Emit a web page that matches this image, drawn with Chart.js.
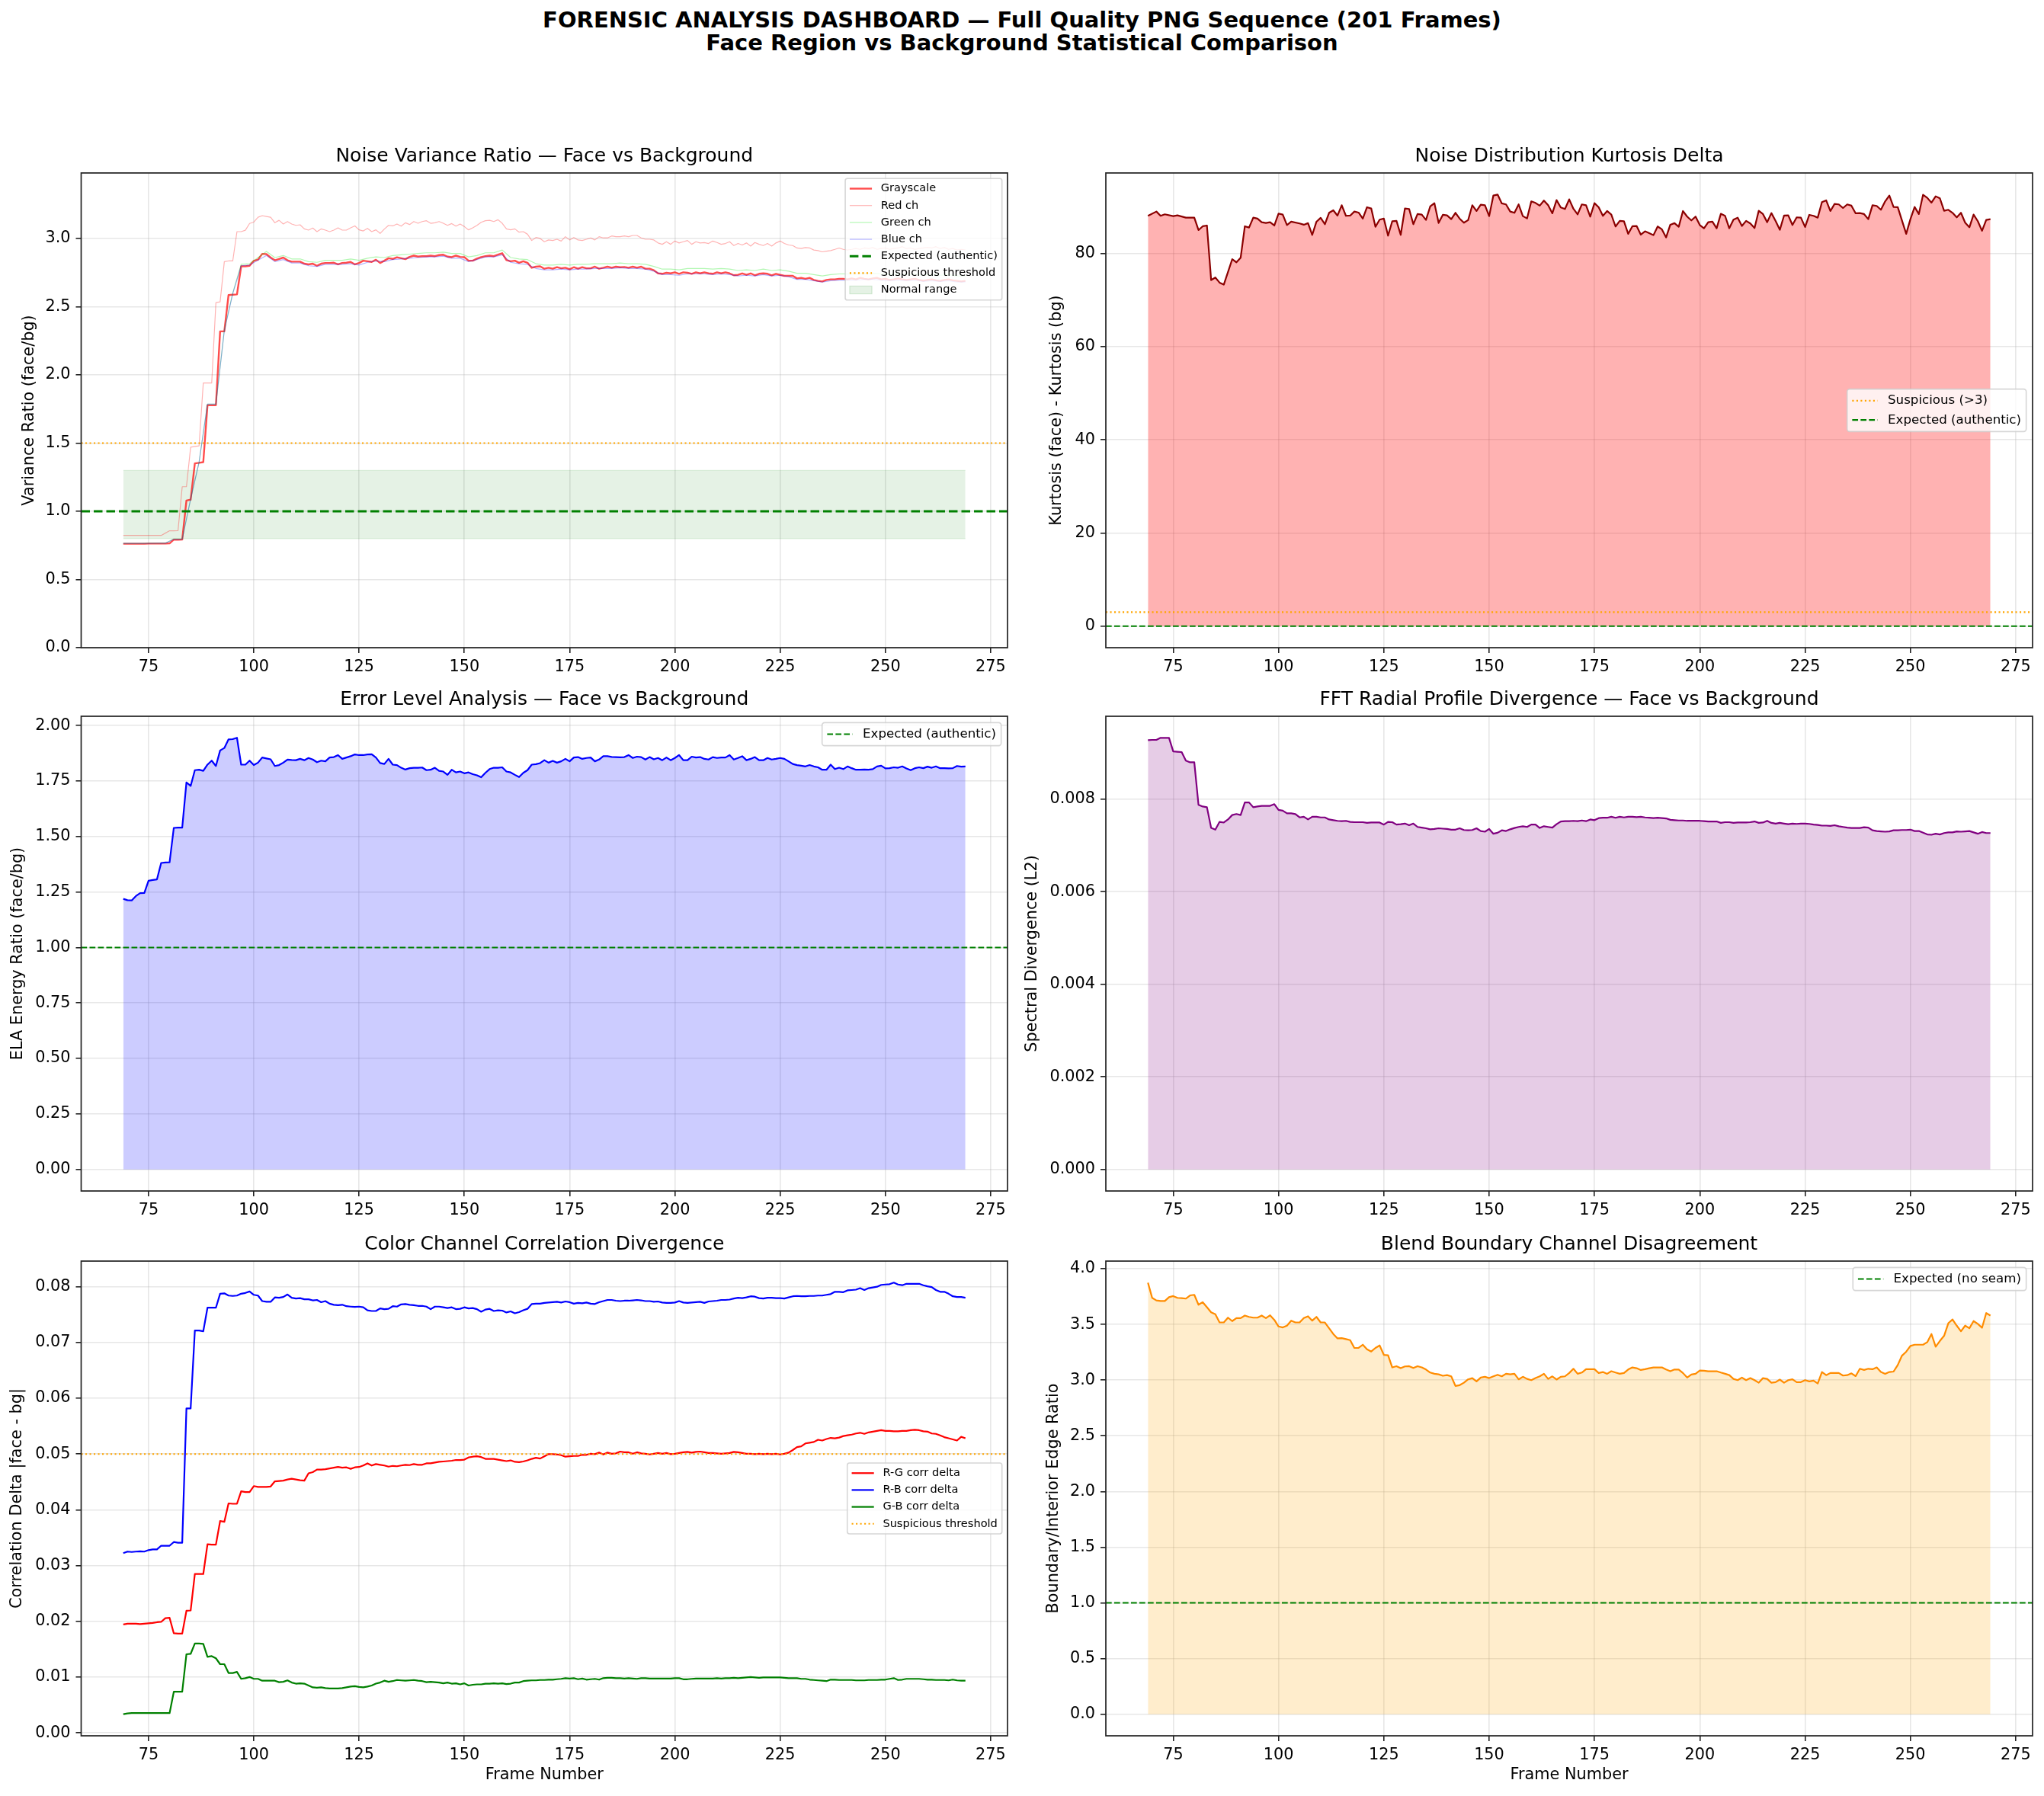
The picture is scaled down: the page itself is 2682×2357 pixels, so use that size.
<!DOCTYPE html>
<html>
<head>
<meta charset="utf-8">
<title>Forensic Analysis Dashboard</title>
<script src="https://cdn.jsdelivr.net/npm/chart.js@4.4.1/dist/chart.umd.min.js"></script>
<style>
  html, body { margin: 0; padding: 0; background: #fff; }
  #page { position: relative; width: 2682px; height: 2357px; overflow: hidden; }
  .suptitle { position: absolute; left: 0; width: 2682px; text-align: center; white-space: nowrap;
    font-family: "DejaVu Sans", sans-serif; font-weight: bold; font-size: 29px; line-height: 29px; color: #000; }
  canvas { position: absolute; }
</style>
</head>
<body>
<div id="page">
  <div class="suptitle" style="top:12px">FORENSIC ANALYSIS DASHBOARD — Full Quality PNG Sequence (201 Frames)</div>
  <div class="suptitle" style="top:42px">Face Region vs Background Statistical Comparison</div>
  <canvas id="variance"></canvas>
  <canvas id="kurtosis"></canvas>
  <canvas id="ela"></canvas>
  <canvas id="fft"></canvas>
  <canvas id="corr"></canvas>
  <canvas id="blend"></canvas>
</div>
<script>
// ---- data (one value per frame, starting at frame 69) ----
const FIRST_FRAME = 69;
const xTickValues = [75, 100, 125, 150, 175, 200, 225, 250, 275];

// noise variance ratio
const varGray = [
  0.762,0.762,0.762,0.762,0.762,0.762,0.763,0.763,0.763,0.763,0.763,
  0.765,0.792,0.792,0.793,1.079,1.085,1.351,1.355,1.360,1.777,
  1.777,1.778,2.319,2.319,2.585,2.588,2.590,2.796,2.796,2.800,
  2.836,2.845,2.887,2.885,2.860,2.840,2.850,2.860,2.840,2.830,
  2.830,2.830,2.815,2.810,2.815,2.800,2.815,2.820,2.820,2.822,
  2.810,2.820,2.822,2.828,2.810,2.820,2.837,2.833,2.828,2.844,
  2.820,2.837,2.855,2.850,2.862,2.855,2.848,2.865,2.874,2.867,
  2.870,2.870,2.874,2.870,2.878,2.881,2.867,2.863,2.874,2.865,
  2.863,2.837,2.837,2.852,2.863,2.870,2.874,2.870,2.881,2.892,
  2.841,2.833,2.837,2.822,2.833,2.822,2.785,2.793,2.796,2.778,
  2.785,2.778,2.789,2.781,2.785,2.774,2.789,2.778,2.789,2.781,
  2.781,2.793,2.778,2.785,2.793,2.785,2.793,2.789,2.791,2.785,
  2.793,2.785,2.793,2.778,2.778,2.767,2.744,2.741,2.748,2.744,
  2.752,2.741,2.752,2.748,2.741,2.752,2.744,2.752,2.744,2.741,
  2.752,2.744,2.752,2.744,2.730,2.733,2.744,2.733,2.744,2.730,
  2.741,2.744,2.741,2.730,2.741,2.733,2.726,2.726,2.726,2.707,
  2.711,2.704,2.711,2.696,2.689,2.685,2.696,2.700,2.700,2.704,
  2.704,2.700,2.707,2.700,2.711,2.704,2.700,2.707,2.711,2.700,
  2.704,2.696,2.700,2.707,2.700,2.696,2.700,2.704,2.696,2.690,
  2.696,2.700,2.693,2.689,2.696,2.700,2.693,2.689,2.685,2.689
];
const varRed = [
  0.823,0.823,0.823,0.823,0.823,0.823,0.823,0.823,0.823,0.823,0.840,
  0.857,0.857,0.858,1.180,1.180,1.470,1.475,1.480,1.940,1.940,
  1.940,2.530,2.535,2.830,2.835,2.835,3.050,3.050,3.060,3.110,
  3.120,3.155,3.167,3.161,3.155,3.115,3.133,3.106,3.124,3.106,
  3.096,3.100,3.070,3.061,3.076,3.050,3.070,3.061,3.050,3.061,
  3.078,3.061,3.061,3.078,3.092,3.063,3.055,3.074,3.050,3.063,
  3.037,3.069,3.096,3.092,3.106,3.090,3.115,3.102,3.124,3.111,
  3.124,3.130,3.111,3.115,3.124,3.111,3.096,3.109,3.090,3.106,
  3.087,3.063,3.078,3.096,3.118,3.130,3.133,3.124,3.137,3.111,
  3.070,3.063,3.070,3.046,3.050,3.031,2.985,3.007,3.000,2.976,
  2.989,2.985,2.994,2.981,3.013,2.989,3.007,2.989,2.985,2.994,
  3.004,2.989,3.013,3.004,3.004,3.018,3.013,3.013,3.018,3.013,
  3.022,3.022,3.004,2.994,2.994,2.989,2.967,2.957,2.976,2.957,
  2.981,2.967,2.976,2.985,2.957,2.976,2.967,2.970,2.963,2.981,
  2.970,2.957,2.963,2.976,2.948,2.963,2.952,2.967,2.944,2.970,
  2.957,2.948,2.963,2.944,2.967,2.981,2.963,2.952,2.948,2.930,
  2.926,2.933,2.930,2.915,2.911,2.902,2.907,2.911,2.920,2.930,
  2.920,2.915,2.920,2.926,2.920,2.930,2.926,2.933,2.920,2.926,
  2.930,2.920,2.926,2.930,2.940,2.926,2.930,2.920,2.926,2.930,
  2.935,2.930,2.940,2.926,2.933,2.920,2.926,2.915,2.920,2.915
];
// green and blue channels read every second frame
const varGreen = [
  0.765,0.765,0.765,0.766,0.766,0.767,0.797,0.797,1.090,1.360,1.785,
  1.785,2.330,2.600,2.810,2.815,2.860,2.905,2.860,2.875,2.850,
  2.850,2.830,2.825,2.840,2.840,2.840,2.850,2.840,2.855,2.865,
  2.860,2.875,2.880,2.885,2.890,2.895,2.895,2.900,2.890,2.890,
  2.865,2.875,2.895,2.895,2.915,2.860,2.850,2.845,2.815,2.805,
  2.805,2.810,2.805,2.810,2.810,2.815,2.815,2.815,2.820,2.815,
  2.815,2.810,2.795,2.775,2.775,2.770,2.780,2.780,2.780,2.775,
  2.780,2.775,2.765,2.770,2.765,2.775,2.765,2.770,2.760,2.745,
  2.745,2.735,2.725,2.735,2.740,2.740,2.740,2.745,2.745,2.740,
  2.735,2.740,2.735,2.740,2.730,2.735,2.730,2.735,2.725,2.725
];
const varBlue = [
  0.765,0.765,0.765,0.765,0.766,0.766,0.795,0.795,1.090,1.360,1.785,
  1.785,2.325,2.595,2.800,2.805,2.840,2.875,2.830,2.845,2.820,
  2.820,2.800,2.795,2.810,2.810,2.810,2.815,2.805,2.825,2.835,
  2.830,2.845,2.850,2.855,2.860,2.865,2.865,2.870,2.855,2.855,
  2.830,2.845,2.865,2.865,2.880,2.825,2.815,2.810,2.780,2.770,
  2.770,2.775,2.770,2.775,2.775,2.780,2.780,2.780,2.785,2.780,
  2.780,2.775,2.760,2.735,2.735,2.730,2.740,2.740,2.740,2.735,
  2.740,2.735,2.725,2.730,2.725,2.735,2.725,2.730,2.720,2.700,
  2.700,2.690,2.680,2.690,2.695,2.695,2.695,2.700,2.700,2.695,
  2.690,2.695,2.690,2.695,2.685,2.690,2.685,2.690,2.680,2.680
];
const varNormalRange = [0.8, 1.3];
const varExpected = 1.0;
const varSuspicious = 1.5;
const varTicks = [0, 0.5, 1.0, 1.5, 2.0, 2.5, 3.0];

// kurtosis delta (null = frame not read)
const kurtValues = [
  88.07,null,88.99,88.07,88.39,null,88.01,88.17,null,87.68,null,
  87.68,85.01,85.83,85.99,74.28,74.82,73.73,73.30,null,78.75,
  78.09,79.07,85.83,85.56,87.68,87.47,86.70,86.54,86.70,85.99,
  88.56,88.34,86.10,86.81,null,86.43,86.16,86.49,83.98,86.81,
  87.63,86.27,88.72,89.26,88.12,90.35,88.07,88.12,88.99,88.77,
  87.47,89.92,89.65,85.72,87.25,87.47,83.81,86.92,86.98,83.98,
  89.65,89.54,86.27,88.45,88.34,87.19,90.08,90.79,86.54,88.28,
  88.17,87.36,88.72,87.47,86.59,87.14,90.35,89.10,90.46,90.35,
  88.01,92.43,92.64,90.74,90.52,88.99,88.72,90.52,88.01,87.52,
  91.17,90.84,90.25,91.34,90.35,88.61,91.44,89.86,89.54,91.61,
  89.59,88.39,90.52,90.35,87.90,90.79,89.92,88.07,89.10,88.34,
  85.78,86.98,86.92,84.20,85.83,85.89,84.03,84.74,84.36,83.92,
  85.78,85.18,83.43,86.16,86.49,85.72,89.10,87.90,87.08,87.90,
  86.10,85.40,86.70,86.81,85.40,88.50,88.07,85.40,87.25,87.68,
  85.89,86.98,86.43,85.45,89.16,88.45,86.70,88.66,86.98,85.07,
  88.12,88.17,86.10,87.74,87.68,85.67,88.28,88.07,87.68,91.01,
  91.39,89.10,90.63,90.52,89.75,90.52,90.25,88.61,88.66,88.45,
  87.36,90.35,90.19,89.37,91.17,92.43,89.97,89.92,87.08,84.20,
  87.36,89.97,88.45,92.59,91.93,90.90,92.26,91.83,89.16,89.37,
  88.72,87.74,88.72,86.59,85.61,88.34,86.92,84.85,87.19,87.36
];
const kurtSuspicious = 3;
const kurtExpected = 0;
const kurtTicks = [0, 20, 40, 60, 80];

// error level analysis
const elaValues = [
  1.219,1.213,1.212,1.232,1.245,1.246,1.301,1.304,1.307,1.381,1.383,
  1.384,1.539,1.540,1.540,1.744,1.728,1.799,1.801,1.796,1.824,
  1.842,1.818,1.888,1.899,1.938,1.939,1.945,1.824,1.824,1.842,
  1.822,1.833,1.856,1.852,1.848,1.818,1.822,1.833,1.847,1.845,
  1.844,1.850,1.844,1.854,1.847,1.835,1.842,1.839,1.856,1.858,
  1.867,1.850,1.856,1.862,1.870,1.867,1.867,1.870,1.871,1.856,
  1.831,1.827,1.850,1.824,1.822,1.810,1.802,1.808,1.810,1.810,
  1.811,1.799,1.801,1.810,1.796,1.793,1.778,1.801,1.789,1.793,
  1.785,1.789,1.781,1.776,1.767,1.787,1.804,1.810,1.810,1.812,
  1.793,1.789,1.778,1.768,1.787,1.799,1.824,1.826,1.831,1.844,
  1.833,1.841,1.833,1.839,1.850,1.839,1.856,1.858,1.850,1.854,
  1.856,1.839,1.847,1.862,1.862,1.859,1.858,1.857,1.858,1.867,
  1.854,1.860,1.858,1.847,1.858,1.848,1.854,1.844,1.856,1.844,
  1.854,1.867,1.844,1.844,1.860,1.856,1.858,1.850,1.847,1.858,
  1.854,1.856,1.856,1.867,1.847,1.854,1.862,1.844,1.850,1.858,
  1.844,1.844,1.854,1.847,1.850,1.854,1.850,1.839,1.827,1.822,
  1.819,1.816,1.822,1.816,1.812,1.801,1.801,1.824,1.804,1.810,
  1.804,1.816,1.808,1.801,1.801,1.802,1.801,1.804,1.816,1.819,
  1.807,1.808,1.812,1.810,1.816,1.807,1.799,1.808,1.812,1.808,
  1.815,1.810,1.816,1.808,1.808,1.807,1.808,1.818,1.815,1.816
];
const elaExpected = 1.0;
const elaTicks = [0, 0.25, 0.5, 0.75, 1.0, 1.25, 1.5, 1.75, 2.0];

// FFT radial profile divergence
const fftValues = [
  0.009273,0.009280,0.009280,0.009324,0.009324,0.009324,0.009030,0.009023,0.009016,0.008832,0.008795,
  0.008795,0.007876,0.007840,0.007825,0.007377,0.007340,0.007509,0.007494,0.007561,0.007656,
  0.007678,0.007656,0.007928,0.007928,0.007825,0.007840,0.007854,0.007854,0.007854,0.007891,
  0.007766,0.007752,0.007693,0.007693,0.007678,0.007605,0.007619,0.007561,0.007619,0.007619,
  0.007605,0.007605,0.007561,0.007546,0.007531,0.007524,0.007531,0.007509,0.007502,0.007502,
  0.007502,0.007487,0.007494,0.007494,0.007494,0.007450,0.007509,0.007502,0.007450,0.007458,
  0.007472,0.007436,0.007472,0.007399,0.007384,0.007370,0.007348,0.007355,0.007370,0.007362,
  0.007355,0.007340,0.007340,0.007370,0.007333,0.007326,0.007333,0.007370,0.007311,0.007296,
  0.007355,0.007252,0.007274,0.007326,0.007311,0.007348,0.007377,0.007399,0.007414,0.007399,
  0.007450,0.007450,0.007377,0.007414,0.007399,0.007384,0.007458,0.007517,0.007524,0.007524,
  0.007531,0.007524,0.007539,0.007524,0.007561,0.007546,0.007590,0.007597,0.007597,0.007619,
  0.007597,0.007619,0.007605,0.007619,0.007619,0.007612,0.007619,0.007605,0.007597,0.007590,
  0.007597,0.007590,0.007583,0.007553,0.007546,0.007539,0.007539,0.007531,0.007531,0.007531,
  0.007531,0.007524,0.007517,0.007517,0.007517,0.007487,0.007502,0.007502,0.007487,0.007494,
  0.007494,0.007494,0.007502,0.007517,0.007487,0.007494,0.007531,0.007487,0.007472,0.007487,
  0.007472,0.007458,0.007472,0.007465,0.007472,0.007472,0.007465,0.007450,0.007443,0.007428,
  0.007428,0.007421,0.007436,0.007414,0.007399,0.007384,0.007377,0.007377,0.007377,0.007392,
  0.007384,0.007326,0.007311,0.007303,0.007296,0.007303,0.007326,0.007326,0.007333,0.007333,
  0.007340,0.007311,0.007311,0.007274,0.007237,0.007230,0.007252,0.007237,0.007267,0.007281,
  0.007281,0.007303,0.007296,0.007303,0.007311,0.007281,0.007252,0.007289,0.007267,0.007267
];
const fftTicks = [0, 0.002, 0.004, 0.006, 0.008];

// colour channel correlation deltas
const corrRG = [
  0.01946,0.01959,0.01959,0.01959,0.01952,0.01959,0.01965,0.01972,0.01985,0.01992,0.02058,
  0.02064,0.01787,0.01781,0.01781,0.02190,0.02196,0.02849,0.02849,0.02849,0.03383,
  0.03377,0.03377,0.03799,0.03786,0.04116,0.04109,0.04109,0.04333,0.04320,0.04320,
  0.04426,0.04412,0.04412,0.04412,0.04419,0.04511,0.04518,0.04524,0.04544,0.04557,
  0.04544,0.04531,0.04524,0.04656,0.04676,0.04722,0.04722,0.04729,0.04742,0.04755,
  0.04769,0.04755,0.04762,0.04736,0.04762,0.04769,0.04795,0.04834,0.04795,0.04821,
  0.04808,0.04795,0.04775,0.04788,0.04782,0.04795,0.04808,0.04802,0.04821,0.04808,
  0.04808,0.04834,0.04834,0.04848,0.04861,0.04867,0.04874,0.04881,0.04894,0.04894,
  0.04900,0.04940,0.04953,0.04960,0.04947,0.04914,0.04914,0.04914,0.04900,0.04887,
  0.04874,0.04887,0.04861,0.04854,0.04867,0.04887,0.04914,0.04933,0.04920,0.04960,
  0.04999,0.04999,0.04993,0.04980,0.04953,0.04960,0.04966,0.04966,0.04986,0.04986,
  0.05006,0.04999,0.05026,0.04993,0.05026,0.05006,0.05013,0.05045,0.05032,0.05032,
  0.05006,0.05032,0.05013,0.05006,0.04993,0.05006,0.05019,0.05006,0.05019,0.04999,
  0.05006,0.05019,0.05032,0.05039,0.05026,0.05039,0.05045,0.05032,0.05019,0.05019,
  0.05013,0.05006,0.05013,0.05019,0.05039,0.05032,0.05019,0.05006,0.05006,0.04999,
  0.05006,0.04999,0.05006,0.04999,0.05006,0.04993,0.05006,0.05026,0.05072,0.05125,
  0.05138,0.05191,0.05204,0.05217,0.05257,0.05243,0.05270,0.05290,0.05283,0.05296,
  0.05323,0.05336,0.05349,0.05369,0.05382,0.05362,0.05389,0.05402,0.05415,0.05428,
  0.05415,0.05415,0.05408,0.05408,0.05415,0.05415,0.05428,0.05435,0.05428,0.05408,
  0.05402,0.05369,0.05362,0.05336,0.05303,0.05283,0.05263,0.05243,0.05309,0.05283
];
const corrRB = [
  0.03225,0.03252,0.03245,0.03252,0.03258,0.03252,0.03278,0.03291,0.03291,0.03357,0.03357,
  0.03357,0.03423,0.03410,0.03410,0.05817,0.05817,0.07215,0.07215,0.07202,0.07624,
  0.07624,0.07624,0.07875,0.07882,0.07842,0.07835,0.07842,0.07875,0.07889,0.07915,
  0.07855,0.07842,0.07743,0.07730,0.07730,0.07809,0.07803,0.07816,0.07862,0.07803,
  0.07789,0.07796,0.07776,0.07776,0.07756,0.07763,0.07723,0.07743,0.07697,0.07677,
  0.07670,0.07677,0.07651,0.07644,0.07638,0.07644,0.07631,0.07578,0.07565,0.07565,
  0.07611,0.07598,0.07604,0.07651,0.07644,0.07684,0.07690,0.07677,0.07670,0.07657,
  0.07657,0.07644,0.07598,0.07644,0.07644,0.07631,0.07618,0.07631,0.07598,0.07604,
  0.07631,0.07611,0.07618,0.07598,0.07552,0.07591,0.07604,0.07565,0.07578,0.07572,
  0.07539,0.07558,0.07525,0.07545,0.07578,0.07604,0.07690,0.07697,0.07697,0.07710,
  0.07717,0.07723,0.07730,0.07717,0.07736,0.07723,0.07697,0.07710,0.07703,0.07717,
  0.07697,0.07690,0.07723,0.07743,0.07763,0.07763,0.07750,0.07743,0.07750,0.07750,
  0.07756,0.07763,0.07756,0.07743,0.07743,0.07730,0.07736,0.07717,0.07710,0.07710,
  0.07717,0.07743,0.07717,0.07710,0.07717,0.07723,0.07730,0.07710,0.07736,0.07743,
  0.07750,0.07763,0.07763,0.07770,0.07789,0.07803,0.07796,0.07809,0.07829,0.07822,
  0.07796,0.07789,0.07803,0.07803,0.07796,0.07796,0.07789,0.07809,0.07829,0.07835,
  0.07829,0.07829,0.07835,0.07835,0.07842,0.07842,0.07855,0.07868,0.07909,0.07909,
  0.07902,0.07935,0.07941,0.07948,0.07974,0.07941,0.07974,0.07987,0.08000,0.08033,
  0.08040,0.08046,0.08073,0.08040,0.08027,0.08053,0.08053,0.08053,0.08053,0.08027,
  0.08007,0.07994,0.07941,0.07909,0.07909,0.07875,0.07829,0.07816,0.07816,0.07803
];
const corrGB = [
  0.00336,0.00350,0.00356,0.00356,0.00356,0.00356,0.00356,0.00356,0.00356,0.00356,0.00356,
  0.00356,0.00739,0.00739,0.00739,0.01411,0.01418,0.01603,0.01603,0.01596,0.01365,
  0.01378,0.01339,0.01233,0.01233,0.01075,0.01075,0.01095,0.00970,0.00983,0.01003,
  0.00970,0.00970,0.00937,0.00937,0.00937,0.00937,0.00910,0.00917,0.00943,0.00904,
  0.00884,0.00890,0.00884,0.00851,0.00818,0.00811,0.00818,0.00805,0.00798,0.00798,
  0.00798,0.00805,0.00818,0.00831,0.00838,0.00824,0.00818,0.00831,0.00851,0.00884,
  0.00904,0.00937,0.00917,0.00930,0.00950,0.00943,0.00937,0.00943,0.00950,0.00937,
  0.00930,0.00910,0.00917,0.00910,0.00904,0.00890,0.00904,0.00884,0.00890,0.00871,
  0.00890,0.00851,0.00864,0.00871,0.00871,0.00884,0.00884,0.00890,0.00884,0.00890,
  0.00877,0.00884,0.00904,0.00904,0.00930,0.00937,0.00943,0.00943,0.00950,0.00950,
  0.00956,0.00956,0.00963,0.00970,0.00983,0.00976,0.00983,0.00963,0.00976,0.00956,
  0.00963,0.00970,0.00956,0.00983,0.00989,0.00989,0.00983,0.00983,0.00976,0.00983,
  0.00976,0.00970,0.00983,0.00983,0.00976,0.00976,0.00976,0.00976,0.00976,0.00976,
  0.00983,0.00983,0.00963,0.00963,0.00970,0.00976,0.00976,0.00976,0.00976,0.00976,
  0.00983,0.00976,0.00983,0.00983,0.00989,0.00983,0.00989,0.00996,0.01003,0.00996,
  0.00989,0.00996,0.00996,0.00996,0.00996,0.00996,0.00989,0.00983,0.00983,0.00983,
  0.00970,0.00970,0.00956,0.00950,0.00943,0.00937,0.00930,0.00956,0.00956,0.00950,
  0.00950,0.00950,0.00950,0.00943,0.00943,0.00943,0.00950,0.00950,0.00950,0.00956,
  0.00956,0.00970,0.00983,0.00950,0.00956,0.00970,0.00970,0.00970,0.00970,0.00963,
  0.00956,0.00956,0.00950,0.00950,0.00950,0.00943,0.00956,0.00943,0.00937,0.00937
];
const corrSuspicious = 0.05;
const corrTicks = [0, 0.01, 0.02, 0.03, 0.04, 0.05, 0.06, 0.07, 0.08];

// blend boundary ratio
const blendValues = [
  3.875,3.739,3.716,3.711,3.711,3.745,3.755,3.739,3.736,3.732,3.761,
  3.766,3.677,3.700,3.655,3.609,3.591,3.518,3.518,3.561,3.530,
  3.557,3.557,3.580,3.568,3.561,3.561,3.580,3.557,3.582,3.541,
  3.482,3.473,3.489,3.534,3.518,3.518,3.557,3.573,3.534,3.568,
  3.518,3.518,3.466,3.414,3.375,3.377,3.368,3.359,3.289,3.289,
  3.318,3.277,3.257,3.289,3.311,3.227,3.223,3.114,3.125,3.107,
  3.123,3.125,3.109,3.125,3.114,3.095,3.068,3.057,3.052,3.039,
  3.045,3.034,2.948,2.955,2.977,3.007,3.018,2.989,3.023,3.030,
  3.018,3.034,3.048,3.034,3.057,3.052,3.057,3.007,3.030,3.011,
  3.000,3.018,3.034,3.057,3.011,3.034,3.005,3.030,3.034,3.064,
  3.102,3.057,3.068,3.098,3.098,3.098,3.064,3.073,3.057,3.080,
  3.068,3.057,3.064,3.095,3.114,3.107,3.091,3.098,3.107,3.114,
  3.114,3.114,3.095,3.080,3.095,3.095,3.064,3.023,3.050,3.057,
  3.086,3.084,3.080,3.080,3.080,3.068,3.057,3.045,3.011,3.000,
  3.023,3.000,3.018,3.000,2.977,3.018,3.011,2.977,2.982,3.005,
  2.977,3.000,3.007,2.982,2.982,3.000,2.989,2.995,2.970,3.073,
  3.045,3.064,3.064,3.064,3.041,3.045,3.061,3.036,3.102,3.091,
  3.102,3.098,3.114,3.073,3.057,3.073,3.077,3.136,3.220,3.255,
  3.307,3.318,3.318,3.318,3.341,3.414,3.300,3.352,3.398,3.511,
  3.545,3.489,3.439,3.489,3.466,3.530,3.505,3.470,3.602,3.580
];
const blendExpected = 1.0;
const blendTicks = [0, 0.5, 1.0, 1.5, 2.0, 2.5, 3.0, 3.5, 4.0];

// ---- helpers ----
function series(values, step) {
  return values.map((v, i) => ({ x: FIRST_FRAME + i * step, y: v }));
}
const lastFrame = FIRST_FRAME + varGray.length - 1;

Chart.defaults.font.family = '"DejaVu Sans", sans-serif';
Chart.defaults.color = '#000';

const TICK_SIZE = 20.8;
const TITLE_SIZE = 25;
const GRID = 'rgba(176,176,176,0.3)';
const DASH = [7.7, 3.3];
const DOT = [2.1, 3.4];

// horizontal reference lines across the plot
const refLines = {
  id: 'refLines',
  afterDatasetsDraw(chart, args, opts) {
    const lines = opts.lines || [];
    const { ctx, chartArea: a } = chart;
    const y = chart.scales.y;
    ctx.save();
    ctx.beginPath();
    ctx.rect(a.left, a.top, a.width, a.height);
    ctx.clip();
    lines.forEach(r => {
      const py = y.getPixelForValue(r.value);
      ctx.strokeStyle = r.color;
      ctx.lineWidth = r.width;
      ctx.setLineDash(r.dash || []);
      ctx.beginPath();
      ctx.moveTo(a.left, py);
      ctx.lineTo(a.right, py);
      ctx.stroke();
    });
    ctx.restore();
  }
};

// box round the axes
const frame = {
  id: 'frame',
  afterDatasetsDraw(chart) {
    const { ctx, chartArea: a } = chart;
    ctx.save();
    ctx.strokeStyle = '#222';
    ctx.lineWidth = 1.7;
    ctx.strokeRect(a.left, a.top, a.width, a.height);
    ctx.restore();
  }
};

// matplotlib-like legend box inside the axes
const legendBox = {
  id: 'legendBox',
  afterDraw(chart, args, opts) {
    const items = opts.items;
    if (!items || !items.length) return;
    const { ctx, chartArea: a } = chart;
    const fs = opts.fontSize;
    ctx.save();
    ctx.font = fs + 'px "DejaVu Sans"';
    let textW = 0;
    items.forEach(it => { textW = Math.max(textW, ctx.measureText(it.label).width); });
    const pad = 0.4 * fs, hLen = 2 * fs, hGap = 0.8 * fs, pitch = 1.52 * fs;
    const w = pad + hLen + hGap + textW + pad;
    const h = 2 * pad + items.length * pitch - 0.5 * fs;
    const x = a.right - 0.5 * fs - w;
    const y = opts.loc === 'center right' ? (a.top + a.bottom) / 2 - h / 2 : a.top + 0.5 * fs;
    ctx.beginPath();
    if (ctx.roundRect) ctx.roundRect(x, y, w, h, 0.2 * fs); else ctx.rect(x, y, w, h);
    ctx.fillStyle = 'rgba(255,255,255,0.8)';
    ctx.fill();
    ctx.lineWidth = 1.6;
    ctx.strokeStyle = 'rgba(204,204,204,0.8)';
    ctx.stroke();
    items.forEach((it, i) => {
      const cy = y + pad + i * pitch + 0.51 * fs;
      const hx = x + pad;
      if (it.patch) {
        ctx.setLineDash([]);
        ctx.fillStyle = it.patch;
        ctx.fillRect(hx, cy - 0.35 * fs, hLen, 0.7 * fs);
        ctx.strokeStyle = it.edge;
        ctx.lineWidth = 1.2;
        ctx.strokeRect(hx, cy - 0.35 * fs, hLen, 0.7 * fs);
      } else {
        ctx.strokeStyle = it.color;
        ctx.lineWidth = it.width;
        ctx.setLineDash(it.dash || []);
        ctx.beginPath();
        ctx.moveTo(hx, cy);
        ctx.lineTo(hx + hLen, cy);
        ctx.stroke();
      }
      ctx.setLineDash([]);
      ctx.fillStyle = '#000';
      ctx.textAlign = 'left';
      ctx.textBaseline = 'middle';
      ctx.fillText(it.label, hx + hLen + hGap, cy);
    });
    ctx.restore();
  }
};

// ---- layout (pixel positions of each axes) ----
const COLS = [
  { left: 0, width: 1340, plotLeft: 106.5, plotRight: 1322 },
  { left: 1340, width: 1342, plotLeft: 1451, plotRight: 2667 }
];
const ROWS = [
  { top: 150, height: 745, plotTop: 227, plotBottom: 850, titleBase: 214 },
  { top: 895, height: 715, plotTop: 940, plotBottom: 1563, titleBase: 927 },
  { top: 1610, height: 747, plotTop: 1655, plotBottom: 2278, titleBase: 1642 }
];

function lineSet(data, color, width, extra) {
  return Object.assign({
    data: data, borderColor: color, borderWidth: width, pointRadius: 0,
    tension: 0, fill: false, spanGaps: true, borderJoinStyle: 'round'
  }, extra || {});
}

function makePanel(id, col, row, spec) {
  const canvas = document.getElementById(id);
  canvas.width = col.width;
  canvas.height = row.height;
  canvas.style.left = col.left + 'px';
  canvas.style.top = row.top + 'px';

  const titleMid = row.titleBase - 0.346 * TITLE_SIZE;
  const titleTop = titleMid - row.top - 0.6 * TITLE_SIZE;
  const titleBottom = (row.plotTop - row.top) - titleTop - 1.2 * TITLE_SIZE;
  const axisFont = { size: TICK_SIZE };

  new Chart(canvas, {
    type: 'line',
    data: { datasets: spec.datasets },
    options: {
      responsive: false,
      animation: false,
      devicePixelRatio: 1,
      events: [],
      layout: { padding: { left: 0, top: 0, bottom: 0, right: col.left + col.width - col.plotRight } },
      plugins: {
        legend: { display: false },
        tooltip: { enabled: false },
        title: {
          display: true, text: spec.title, fullSize: false, color: '#000',
          font: { size: TITLE_SIZE, weight: 'normal' },
          padding: { top: titleTop, bottom: titleBottom }
        },
        refLines: { lines: spec.refLines || [] },
        legendBox: spec.legend || {}
      },
      scales: {
        x: {
          type: 'linear', min: 59, max: 279,
          afterFit: s => { s.height = row.top + row.height - row.plotBottom; },
          afterBuildTicks: s => { s.ticks = xTickValues.map(v => ({ value: v })); },
          grid: { color: GRID, lineWidth: 1.6, tickColor: '#222', tickWidth: 1.6, tickLength: 7 },
          border: { display: false },
          ticks: { font: axisFont, padding: 6, maxRotation: 0, color: '#000' },
          title: spec.xTitle
            ? { display: true, text: spec.xTitle, font: axisFont, padding: { top: 0, bottom: 14.5 } }
            : { display: false }
        },
        y: {
          type: 'linear', min: spec.yMin, max: spec.yMax,
          afterFit: s => { s.width = col.plotLeft - col.left; },
          afterBuildTicks: s => { s.ticks = spec.yTicks.map(v => ({ value: v })); },
          grid: { color: GRID, lineWidth: 1.6, tickColor: '#222', tickWidth: 1.6, tickLength: 7 },
          border: { display: false },
          ticks: { font: axisFont, padding: 7, color: '#000', callback: v => Number(v).toFixed(spec.yDec) },
          title: {
            display: true, text: spec.yTitle, font: axisFont,
            padding: { top: spec.yTitleX - col.left - 0.6 * TICK_SIZE, bottom: 0 }
          }
        }
      }
    },
    plugins: [refLines, frame, legendBox]
  });
}

// ---- panels ----
makePanel('variance', COLS[0], ROWS[0], {
  title: 'Noise Variance Ratio — Face vs Background',
  yTitle: 'Variance Ratio (face/bg)', yTitleX: 38.5,
  yMin: 0, yMax: 3.48, yTicks: varTicks, yDec: 1,
  datasets: [
    lineSet(series(varBlue, 2), 'rgba(0,0,255,0.3)', 1.2, { order: 2 }),
    lineSet(series(varGreen, 2), 'rgba(0,230,0,0.3)', 1.2, { order: 3 }),
    lineSet(series(varRed, 1), 'rgba(255,0,0,0.3)', 1.2, { order: 4 }),
    lineSet(series(varGray, 1), 'rgba(255,0,0,0.7)', 2.4, { order: 5 }),
    lineSet([{ x: FIRST_FRAME, y: varNormalRange[1] }, { x: lastFrame, y: varNormalRange[1] }],
      'rgba(0,128,0,0.12)', 1.2, { order: 8, fill: { target: 5 }, backgroundColor: 'rgba(0,128,0,0.1)' }),
    lineSet([{ x: FIRST_FRAME, y: varNormalRange[0] }, { x: lastFrame, y: varNormalRange[0] }],
      'rgba(0,128,0,0.12)', 1.2, { order: 9 })
  ],
  refLines: [
    { value: varExpected, color: '#008000', width: 3.1, dash: [11.5, 5] },
    { value: varSuspicious, color: '#ffa500', width: 2.1, dash: DOT }
  ],
  legend: {
    loc: 'upper right', fontSize: 14.58,
    items: [
      { label: 'Grayscale', color: 'rgba(255,0,0,0.7)', width: 2.4 },
      { label: 'Red ch', color: 'rgba(255,0,0,0.3)', width: 1.2 },
      { label: 'Green ch', color: 'rgba(0,230,0,0.3)', width: 1.2 },
      { label: 'Blue ch', color: 'rgba(0,0,255,0.3)', width: 1.2 },
      { label: 'Expected (authentic)', color: '#008000', width: 3.1, dash: [11.5, 5] },
      { label: 'Suspicious threshold', color: '#ffa500', width: 2.1, dash: DOT },
      { label: 'Normal range', patch: 'rgba(0,128,0,0.1)', edge: 'rgba(0,128,0,0.15)' }
    ]
  }
});

makePanel('kurtosis', COLS[1], ROWS[0], {
  title: 'Noise Distribution Kurtosis Delta',
  yTitle: 'Kurtosis (face) - Kurtosis (bg)', yTitleX: 1387,
  yMin: -4.63, yMax: 97.27, yTicks: kurtTicks, yDec: 0,
  datasets: [
    lineSet(series(kurtValues, 1), '#8b0000', 2.2, { fill: 'origin', backgroundColor: 'rgba(255,0,0,0.3)' })
  ],
  refLines: [
    { value: kurtSuspicious, color: '#ffa500', width: 2.1, dash: DOT },
    { value: kurtExpected, color: '#008000', width: 2.1, dash: DASH }
  ],
  legend: {
    loc: 'center right', fontSize: 16.67,
    items: [
      { label: 'Suspicious (>3)', color: '#ffa500', width: 2.1, dash: DOT },
      { label: 'Expected (authentic)', color: '#008000', width: 2.1, dash: DASH }
    ]
  }
});

makePanel('ela', COLS[0], ROWS[1], {
  title: 'Error Level Analysis — Face vs Background',
  yTitle: 'ELA Energy Ratio (face/bg)', yTitleX: 24,
  yMin: -0.0973, yMax: 2.042, yTicks: elaTicks, yDec: 2,
  datasets: [
    lineSet(series(elaValues, 1), '#0000ff', 2.2, { fill: 'origin', backgroundColor: 'rgba(0,0,255,0.2)' })
  ],
  refLines: [{ value: elaExpected, color: '#008000', width: 2.1, dash: DASH }],
  legend: {
    loc: 'upper right', fontSize: 16.67,
    items: [{ label: 'Expected (authentic)', color: '#008000', width: 2.1, dash: DASH }]
  }
});

makePanel('fft', COLS[1], ROWS[1], {
  title: 'FFT Radial Profile Divergence — Face vs Background',
  yTitle: 'Spectral Divergence (L2)', yTitleX: 1355,
  yMin: -0.000466, yMax: 0.00979, yTicks: fftTicks, yDec: 3,
  datasets: [
    lineSet(series(fftValues, 1), '#800080', 2.2, { fill: 'origin', backgroundColor: 'rgba(128,0,128,0.2)' })
  ]
});

makePanel('corr', COLS[0], ROWS[2], {
  title: 'Color Channel Correlation Divergence',
  yTitle: 'Correlation Delta |face - bg|', yTitleX: 23, xTitle: 'Frame Number',
  yMin: -0.00051, yMax: 0.0846, yTicks: corrTicks, yDec: 2,
  datasets: [
    lineSet(series(corrGB, 1), '#008000', 2.2),
    lineSet(series(corrRB, 1), '#0000ff', 2.2),
    lineSet(series(corrRG, 1), '#ff0000', 2.2)
  ],
  refLines: [{ value: corrSuspicious, color: '#ffa500', width: 2.1, dash: DOT }],
  legend: {
    loc: 'center right', fontSize: 14.58,
    items: [
      { label: 'R-G corr delta', color: '#ff0000', width: 2.2 },
      { label: 'R-B corr delta', color: '#0000ff', width: 2.2 },
      { label: 'G-B corr delta', color: '#008000', width: 2.2 },
      { label: 'Suspicious threshold', color: '#ffa500', width: 2.1, dash: DOT }
    ]
  }
});

makePanel('blend', COLS[1], ROWS[2], {
  title: 'Blend Boundary Channel Disagreement',
  yTitle: 'Boundary/Interior Edge Ratio', yTitleX: 1383, xTitle: 'Frame Number',
  yMin: -0.194, yMax: 4.069, yTicks: blendTicks, yDec: 1,
  datasets: [
    lineSet(series(blendValues, 1), '#ff8c00', 2.2, { fill: 'origin', backgroundColor: 'rgba(255,165,0,0.2)' })
  ],
  refLines: [{ value: blendExpected, color: '#008000', width: 2.1, dash: DASH }],
  legend: {
    loc: 'upper right', fontSize: 16.67,
    items: [{ label: 'Expected (no seam)', color: '#008000', width: 2.1, dash: DASH }]
  }
});
</script>
</body>
</html>
